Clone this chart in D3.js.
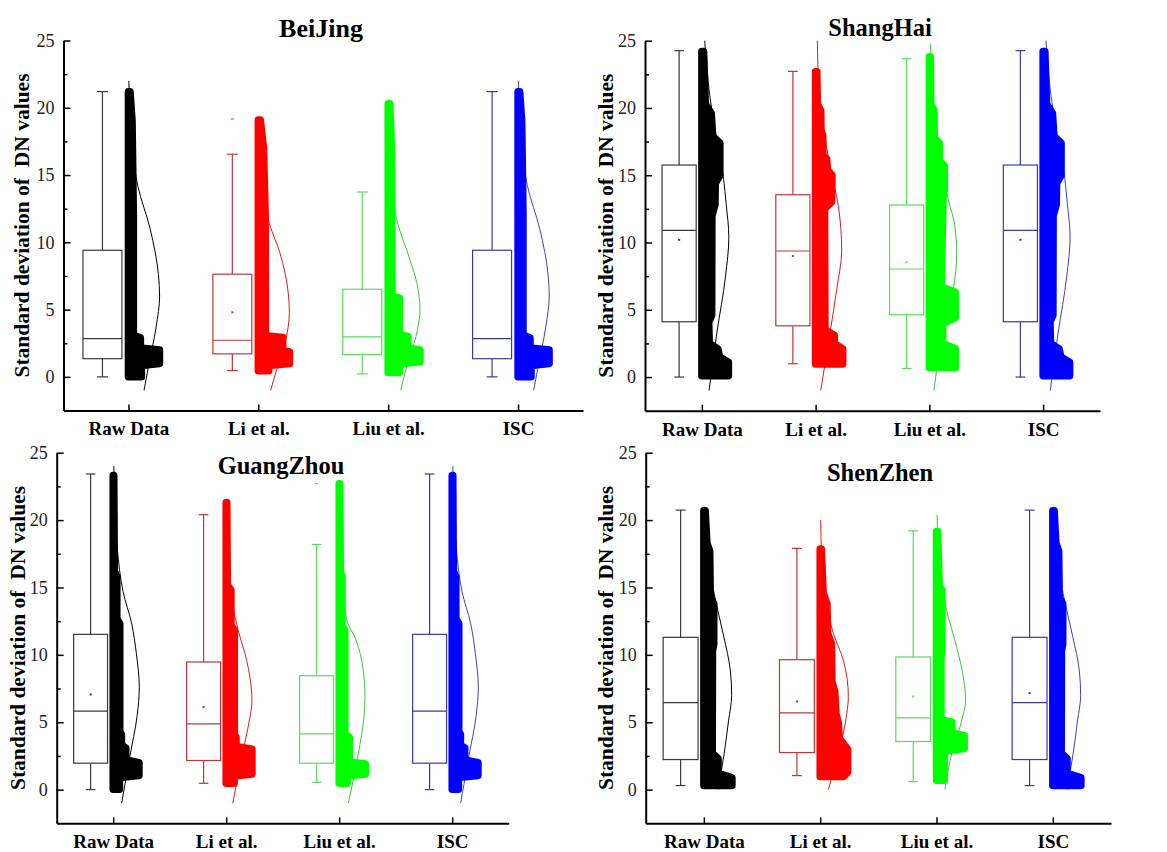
<!DOCTYPE html>
<html>
<head>
<meta charset="utf-8">
<script src="https://cdn.jsdelivr.net/npm/d3@7"></script>
<style>
  html, body { margin: 0; padding: 0; background: #fff; }
  svg { display: block; }
  text { font-family: "Liberation Serif", "Times New Roman", serif; }
</style>
</head>
<body>
<svg id="chart" width="1167" height="852"></svg>
<script>
// ---------------- DATA ----------------
const categories = ["Raw Data", "Li et al.", "Liu et al.", "ISC"];
const cities = ["BeiJing", "ShangHai", "GuangZhou", "ShenZhen"];
const yTicksMajor = [0, 5, 10, 15, 20, 25];
const yTicksMinor = [2.5, 7.5, 12.5, 17.5, 22.5];

// box stats: [whisker low, Q1, median, Q3, whisker high]
const boxBeiJing   = [[0, 1.35, 2.84, 9.41, 21.2], [0.47, 1.71, 2.72, 7.63, 16.55], [0.22, 1.66, 2.97, 6.51, 13.74], [0, 1.35, 2.84, 9.41, 21.2]];
const boxShangHai  = [[0, 4.11, 10.9, 15.76, 24.26], [0.99, 3.81, 9.37, 13.55, 22.72], [0.64, 4.63, 8.03, 12.79, 23.66], [0, 4.11, 10.9, 15.76, 24.26]];
const boxGuangZhou = [[0, 1.96, 5.82, 11.52, 23.42], [0.47, 2.16, 4.88, 9.47, 20.4], [0.54, 1.96, 4.14, 8.45, 18.19], [0, 1.96, 5.82, 11.52, 23.42]];
const boxShenZhen  = [[0.3, 2.23, 6.45, 11.3, 20.74], [1.04, 2.75, 5.7, 9.64, 17.9], [0.59, 3.57, 5.33, 9.84, 19.2], [0.3, 2.23, 6.45, 11.3, 20.74]];

const meanBeiJing   = [null, 4.8, null, null];
const meanShangHai  = [10.2, 9.0, 8.52, 10.2];
const meanGuangZhou = [7.06, 6.12, null, null];
const meanShenZhen  = [null, 6.54, 6.91, 7.16];

const outlierBeiJing   = [[], [19.17], [], []];
const outlierShangHai  = [[], [], [], []];
const outlierGuangZhou = [[], [], [22.7], []];
const outlierShenZhen  = [[], [], [], []];

// point-cloud density profiles: [value, relative spread (% of category width)]
const cloudBJRaw = [[0, 10], [0.85, 10], [1.0, 23.9], [2.0, 23.9], [2.15, 9.2], [2.9, 9.2], [3.1, 3.8], [12, 3.8], [19, 2.8], [21.2, 1.2]];
const cloudBJLi  = [[0.45, 8], [0.85, 8], [1.0, 24], [1.85, 24], [1.97, 18.8], [2.92, 18.8], [3.06, 5.5], [12, 5.3], [17, 4], [19.1, 1.5]];
const cloudBJLiu = [[0.32, 8.5], [0.98, 8.5], [1.12, 24.5], [2.0, 24.5], [2.14, 15], [3.0, 15], [3.14, 8.5], [5.85, 8.5], [6.0, 3], [17, 2.5], [20.3, 1.2]];
const cloudSHRaw = [[0.1, 23.3], [1.1, 23.3], [1.5, 15.5], [2.1, 14], [2.5, 6.5], [4.1, 6], [4.6, 8.6], [12, 8.8], [12.8, 11.5], [14.4, 11.8], [15, 15.8], [17.4, 15.8], [17.9, 9.5], [19.6, 8.2], [20.3, 3], [22.5, 2.2], [24.2, 1.5]];
const cloudSHLi  = [[0.97, 23.8], [2.1, 23.8], [2.5, 16.4], [3.1, 16.4], [3.5, 8.2], [12.5, 7.8], [13, 14], [15, 14.4], [15.4, 10.2], [16.2, 9.8], [16.5, 6.4], [18, 6.2], [18.3, 4.7], [19.8, 4.5], [20.3, 1.5], [22.7, 1]];
const cloudSHLiu = [[0.72, 22.8], [2.1, 22.8], [2.5, 11.7], [4.0, 11.7], [4.4, 22.8], [6.3, 22.8], [6.7, 10.5], [13.4, 12], [13.9, 13.1], [15.7, 13.1], [16.1, 8.7], [17.4, 8.7], [17.8, 4.3], [19.8, 4.1], [20.3, 1.2], [23.8, 0.8]];
const cloudGZRaw = [[0.03, 5.5], [0.9, 5.5], [1.05, 22.8], [2.0, 22.8], [2.2, 11.1], [3.1, 11.1], [3.3, 7.3], [4.1, 7.3], [4.3, 5.8], [12.3, 5.8], [12.7, 3.2], [15.8, 3.2], [16.2, 1], [23.3, 0.5]];
const cloudGZLi  = [[0.47, 7], [1.0, 7], [1.15, 22.8], [3.0, 22.8], [3.2, 8.7], [3.9, 8.7], [4.1, 7.2], [11.8, 7.2], [12.2, 4.2], [14.8, 4.2], [15.2, 1], [21.3, 0.5]];
const cloudGZLiu = [[0.47, 7], [1.0, 7], [1.15, 23.1], [1.9, 23.1], [2.05, 8.9], [3.9, 8.9], [4.1, 4.9], [11.8, 4.9], [12.2, 2.5], [15.8, 2.5], [16.2, 1], [22.7, 0.5]];
const cloudSZRaw = [[0.3, 24.1], [0.9, 24.1], [1.2, 12.2], [2.3, 12.2], [2.7, 7.2], [10.3, 7.4], [10.8, 8.5], [13.8, 8.5], [14.3, 5.5], [17.7, 5], [18.3, 2.6], [20.7, 1.1]];
const cloudSZLi  = [[0.97, 20], [1.3, 23.6], [3.0, 23.6], [3.8, 16.4], [5, 15.5], [5.6, 13.6], [7.3, 12.5], [8, 10.1], [10.8, 9.7], [11.6, 6.4], [13.8, 5.8], [14.6, 2.5], [17.85, 1]];
const cloudSZLiu = [[0.7, 6.6], [2.85, 6.6], [3.05, 23.8], [4.0, 23.8], [4.2, 13.2], [5.0, 13.2], [5.2, 3.8], [9.8, 3.8], [10.2, 4.6], [14.8, 4.6], [15.2, 2.3], [19.15, 1]];

// distribution curves: [value, relative height (% of category width)]
const curveBJRaw = [[-1, 12], [0.8, 15.5], [3.7, 21.3], [6, 24], [7.6, 23.1], [11, 16.7], [14.2, 7.2], [17, 3], [20, 0.9], [22, 0.3]];
const curveBJLi  = [[-1, 9.5], [0.5, 14], [2.5, 20.5], [4.8, 23.9], [6.2, 23.1], [9.2, 16.7], [11.4, 8.5], [14, 3.5], [17, 1], [19.2, 0.3]];
const curveBJLiu = [[-1, 9.7], [0.5, 13.5], [2.5, 20], [3.5, 22.5], [5, 24.5], [7, 22], [8.7, 16.8], [11.7, 6.5], [14, 2.8], [17, 0.8], [20.3, 0.2]];
const curveSHRaw = [[-1, 6.3], [3.3, 13.2], [7.5, 20.8], [10.4, 23.7], [12.9, 21.3], [14.7, 19.1], [18, 12.3], [21, 6.8], [25, 2.5]];
const curveSHLi  = [[-1, 4.5], [3.3, 12.7], [6.5, 18.5], [9.4, 22.9], [12.7, 20], [15.5, 13], [18.5, 7], [21.5, 3], [25, 1.5]];
const curveSHLiu = [[-1, 4], [1.3, 7.8], [4, 14], [6.5, 21], [9.2, 24], [11.2, 22.5], [13.2, 16.6], [16, 10], [19, 4.5], [22, 2], [24.8, 1.1]];
const curveGZRaw = [[-1, 7.5], [2.4, 14.6], [5.5, 21.2], [7.6, 23.1], [10.1, 20.5], [12.3, 16.4], [14.7, 8.7], [18, 3.5], [21, 1.2], [24, 0.6]];
const curveGZLi  = [[-1, 5.8], [2.4, 13.7], [5.1, 20.4], [6.5, 22.8], [7.1, 22.6], [9.6, 18.1], [11.8, 10.7], [14, 5], [17, 1.3], [21.3, 0.2]];
const curveGZLiu = [[-1, 8.1], [2.65, 16.9], [5.5, 22], [6.9, 22.8], [8.85, 21.3], [11.1, 14.9], [12.6, 6.6], [15, 3], [18, 1], [22.7, 0.2]];
const curveSZRaw = [[0, 12.2], [2.7, 17.5], [5.1, 21.2], [7, 23.9], [8.8, 22.8], [11.4, 17], [13.9, 10.4], [16.5, 4.8], [19, 1.9], [21, 0.8]];
const curveSZLi  = [[0, 7], [2.65, 15.6], [5.6, 22.8], [6.9, 24.2], [9.6, 19.9], [11.6, 11.3], [14, 5], [17, 1.5], [20, 0.4]];
const curveSZLiu = [[0, 7.2], [2.65, 13], [5.1, 21.6], [6.6, 25], [8.1, 23.5], [10.6, 17.3], [13.3, 8.7], [16, 3.5], [18.5, 1.2], [20.4, 0.5]];

// ---------------- LAYOUT / STYLE ----------------
const panels = [
  { title: cities[0], box: boxBeiJing, mean: meanBeiJing, out: outlierBeiJing,
    clouds: [cloudBJRaw, cloudBJLi, cloudBJLiu, cloudBJRaw], curves: [curveBJRaw, curveBJLi, curveBJLiu, curveBJRaw],
    x0: 63.5, x1: 583, yTop: 40.5, yBot: 410.5, tx: 321, ty: 37, tsize: 26, lx: 21.7 },
  { title: cities[1], box: boxShangHai, mean: meanShangHai, out: outlierShangHai,
    clouds: [cloudSHRaw, cloudSHLi, cloudSHLiu, cloudSHRaw], curves: [curveSHRaw, curveSHLi, curveSHLiu, curveSHRaw],
    x0: 645, x1: 1100, yTop: 40.7, yBot: 410.7, tx: 880, ty: 36, tsize: 24.5, lx: 606 },
  { title: cities[2], box: boxGuangZhou, mean: meanGuangZhou, out: outlierGuangZhou,
    clouds: [cloudGZRaw, cloudGZLi, cloudGZLiu, cloudGZRaw], curves: [curveGZRaw, curveGZLi, curveGZLiu, curveGZRaw],
    x0: 56.7, x1: 508.7, yTop: 452.7, yBot: 823.3, tx: 281, ty: 474, tsize: 24.5, lx: 18.3 },
  { title: cities[3], box: boxShenZhen, mean: meanShenZhen, out: outlierShenZhen,
    clouds: [cloudSZRaw, cloudSZLi, cloudSZLiu, cloudSZRaw], curves: [curveSZRaw, curveSZLi, curveSZLiu, curveSZRaw],
    x0: 645.7, x1: 1111, yTop: 452.7, yBot: 823.3, tx: 880, ty: 481, tsize: 24.5, lx: 606 }
];

const boxColors   = ["#3a3a3a", "#b83a3a", "#5fd85f", "#3a3aa6"];
const cloudColors = ["#000000", "#ff0000", "#00ff00", "#0000ff"];
const curveColors = ["#000000", "#d02020", "#40c040", "#4444a8"];

const svg = d3.select("#chart");
svg.append("rect").attr("width", 1167).attr("height", 852).attr("fill", "#fff");

panels.forEach(p => {
  const g = svg.append("g");
  const y = d3.scaleLinear().domain([-2.5, 25]).range([p.yBot, p.yTop]);
  const x = d3.scalePoint().domain(categories).range([p.x0, p.x1]).padding(0.5);
  const band = x.step();

  // distribution curves (behind clouds)
  categories.forEach((c, i) => {
    const cx = x(c);
    const line = d3.line()
      .curve(d3.curveMonotoneY)
      .x(d => cx + band * d[1] / 100)
      .y(d => y(d[0]));
    g.append("path").datum(p.curves[i])
      .attr("d", line)
      .attr("fill", "none")
      .attr("stroke", curveColors[i])
      .attr("stroke-width", 1);
  });

  // point clouds
  categories.forEach((c, i) => {
    const cx = x(c);
    const area = d3.area()
      .y(d => y(d[0]))
      .x0(cx)
      .x1(d => cx + band * d[1] / 100);
    g.append("path").datum(p.clouds[i])
      .attr("d", area)
      .attr("fill", cloudColors[i])
      .attr("stroke", cloudColors[i])
      .attr("stroke-width", 7.5)
      .attr("stroke-linejoin", "round");
  });

  // boxes
  categories.forEach((c, i) => {
    const b = p.box[i];
    const bc = x(c) - 0.2 * band;
    const bw = 0.3 * band;
    const cw = 0.085 * band;
    const col = boxColors[i];
    const bg = g.append("g").attr("stroke", col).attr("fill", "none").attr("stroke-width", 1.2);
    bg.append("line").attr("x1", bc).attr("x2", bc).attr("y1", y(b[3])).attr("y2", y(b[4]));
    bg.append("line").attr("x1", bc).attr("x2", bc).attr("y1", y(b[1])).attr("y2", y(b[0]));
    bg.append("line").attr("x1", bc - cw / 2).attr("x2", bc + cw / 2).attr("y1", y(b[4])).attr("y2", y(b[4]));
    bg.append("line").attr("x1", bc - cw / 2).attr("x2", bc + cw / 2).attr("y1", y(b[0])).attr("y2", y(b[0]));
    bg.append("rect").attr("x", bc - bw / 2).attr("width", bw)
      .attr("y", y(b[3])).attr("height", y(b[1]) - y(b[3])).attr("fill", "#fff");
    bg.append("line").attr("x1", bc - bw / 2).attr("x2", bc + bw / 2).attr("y1", y(b[2])).attr("y2", y(b[2]));
    if (p.mean[i] != null) {
      g.append("rect").attr("x", bc - 1).attr("y", y(p.mean[i]) - 1).attr("width", 2).attr("height", 2).attr("fill", col);
    }
    p.out[i].forEach(v => {
      g.append("line").attr("x1", bc - 1.5).attr("x2", bc + 1.5).attr("y1", y(v)).attr("y2", y(v))
        .attr("stroke", col).attr("stroke-width", 1);
    });
  });

  // axes
  const yAxis = d3.axisLeft(y).tickValues(yTicksMajor).tickSizeInner(-7).tickSizeOuter(0).tickPadding(9).tickFormat(d3.format("d"));
  const yg = g.append("g").attr("transform", `translate(${p.x0},0)`).call(yAxis);
  yg.select(".domain").attr("stroke-width", 2);
  yg.selectAll(".tick line").attr("stroke-width", 1.5);
  yg.selectAll(".tick text").attr("font-size", 18).attr("font-family", "Liberation Serif, Times New Roman, serif").attr("fill", "#222");

  const yMinor = d3.axisLeft(y).tickValues(yTicksMinor).tickSizeInner(-4).tickSizeOuter(0).tickFormat("");
  const ymg = g.append("g").attr("transform", `translate(${p.x0},0)`).call(yMinor);
  ymg.select(".domain").remove();
  ymg.selectAll(".tick line").attr("stroke-width", 1.5);

  const xAxis = d3.axisBottom(x).tickSizeInner(-6).tickSizeOuter(0).tickPadding(11.5);
  const xg = g.append("g").attr("transform", `translate(0,${p.yBot})`).call(xAxis);
  xg.select(".domain").attr("stroke-width", 2);
  xg.selectAll(".tick line").attr("stroke-width", 1.5);
  xg.selectAll(".tick text").attr("font-size", 19).attr("font-weight", "bold")
    .attr("font-family", "Liberation Serif, Times New Roman, serif").attr("fill", "#000");

  // titles
  g.append("text").attr("x", p.tx).attr("y", p.ty).attr("text-anchor", "middle")
    .attr("font-size", p.tsize).attr("font-weight", "bold").text(p.title);

  const ly = (p.yTop + p.yBot) / 2;
  g.append("text")
    .attr("transform", `translate(${p.lx},${ly}) rotate(-90)`)
    .attr("text-anchor", "middle").attr("dominant-baseline", "central")
    .attr("font-size", 21.5).attr("font-weight", "bold")
    .style("white-space", "pre")
    .text("Standard deviation of  DN values");
});
</script>
</body>
</html>
